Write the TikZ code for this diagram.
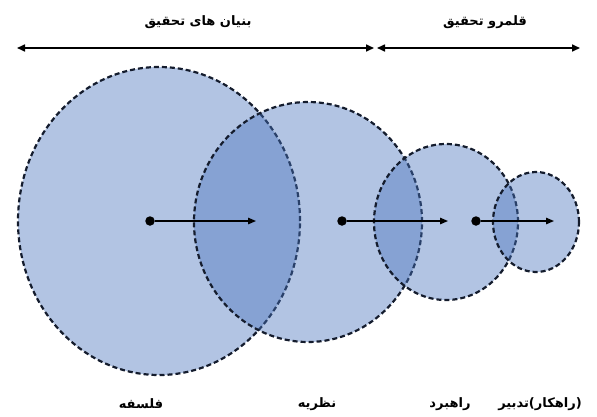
\documentclass[tikz,border=0pt]{standalone}
\usepackage{fontspec}
\newfontfamily\arabicfont[Script=Arabic]{DejaVu Sans}
\newfontfamily\latinfont{DejaVu Sans}
\TeXXeTstate=1
\definecolor{zoneblue}{RGB}{72,115,188}
\definecolor{rimnavy}{RGB}{20,28,45}
\usetikzlibrary{arrows.meta,positioning,shapes.geometric}

\begin{document}
\begin{tikzpicture}[x=1pt, y=-1pt,
    zone/.style={ellipse, draw=rimnavy, line width=2.2pt, dash pattern=on 5pt off 3pt,
                 fill=zoneblue, fill opacity=0.42, inner sep=0pt},
    hub/.style={circle, fill=black, inner sep=0pt, minimum size=9.5pt},
    lbl/.style={font=\arabicfont\bfseries\fontsize{13}{15}\selectfont},
    span/.style={line width=1.6pt, {Triangle[length=8pt,width=7pt]}-{Triangle[length=8pt,width=7pt]}},
    push/.style={line width=1.3pt, -{Triangle[length=8pt,width=6.5pt]}}]
  \useasboundingbox (0,0) rectangle (597,416);

  % range arrows on top
  \coordinate (baseL) at (17,48);
  \coordinate (baseR) at (374,48);
  \coordinate (scopeL) at (377,48);
  \coordinate (scopeR) at (580,48);
  \draw[span] (baseL) -- (baseR);
  \draw[span] (scopeL) -- (scopeR);
  \node[lbl] (baseTxt) at (198,22) {\beginR بنیان های تحقیق\endR};
  \node[lbl] (scopeTxt) at (485,22) {\beginR قلمرو تحقیق\endR};

  % the four zones
  \node[zone, minimum width=282pt, minimum height=308pt] (philo) at (159,221) {};
  \node[zone, minimum width=228pt, minimum height=240pt] (theory) at (308,222) {};
  \node[zone, minimum width=144pt, minimum height=156pt] (strategy) at (446,222) {};
  \node[zone, minimum width=86pt, minimum height=100pt] (tactic) at (536,222) {};

  % centres and shifts
  \node[hub] (philoHub) at (150,221) {};
  \node[hub] (theoryHub) at (342,221) {};
  \node[hub] (strategyHub) at (476,221) {};
  \coordinate (philoTip) at (256,221);
  \coordinate (theoryTip) at (448,221);
  \coordinate (strategyTip) at (554,221);
  \draw[push] (philoHub) -- (philoTip);
  \draw[push] (theoryHub) -- (theoryTip);
  \draw[push] (strategyHub) -- (strategyTip);

  % names under the zones
  \node[lbl] (philoTxt) at (141,404) {\beginR فلسفه\endR};
  \node[lbl] (theoryTxt) at (317,404) {\beginR نظریه\endR};
  \node[lbl] (strategyTxt) at (450,404) {\beginR راهبرد\endR};
  \node[lbl] (tacticTxt) at (540,404)
    {\hbox{\beginR تدبیر\endR}\hbox{\latinfont(}\hbox{\beginR راهکار\endR}\hbox{\latinfont)}};
\end{tikzpicture}
\end{document}
